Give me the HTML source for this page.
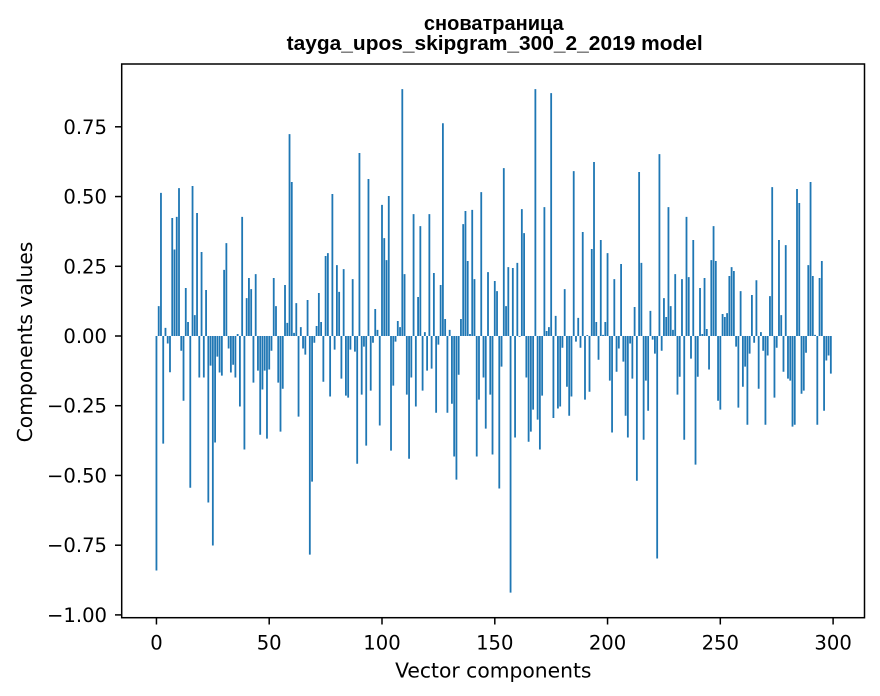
<!DOCTYPE html>
<html><head><meta charset="utf-8"><style>
html,body{margin:0;padding:0;background:#fff;}
svg{display:block;}
text{font-family:"DejaVu Sans","Liberation Sans",sans-serif;fill:#000;}
.t{font-family:"Liberation Sans","DejaVu Sans",sans-serif;font-weight:bold;font-size:20px;}
.tk{font-size:19.6px;}
.lb{font-size:20.3px;}
</style></head><body>
<svg width="880" height="696" viewBox="0 0 880 696" xmlns="http://www.w3.org/2000/svg">
<rect x="0" y="0" width="880" height="696" fill="#fff"/>
<g transform="translate(156.45,336) scale(2.2555,-278.9)">
<path fill="#1f77b4" d="M-0.4 0
h.8V-.841h-.8V0m1 0 h.8V.107h-.8V0m1 0 h.8V.513h-.8V0m1 0 h.8V-.386h-.8V0m1 0 h.8V.029h-.8V0m1 0
h.8V-.027h-.8V0m1 0 h.8V-.13h-.8V0m1 0 h.8V.423h-.8V0m1 0 h.8V.31h-.8V0m1 0 h.8V.427h-.8V0m1 0
h.8V.53h-.8V0m1 0 h.8V-.053h-.8V0m1 0 h.8V-.232h-.8V0m1 0 h.8V.172h-.8V0m1 0 h.8V.05h-.8V0m1 0
h.8V-.544h-.8V0m1 0 h.8V.538h-.8V0m1 0 h.8V.075h-.8V0m1 0 h.8V.441h-.8V0m1 0 h.8V-.149h-.8V0m1 0
h.8V.301h-.8V0m1 0 h.8V-.149h-.8V0m1 0 h.8V.165h-.8V0m1 0 h.8V-.597h-.8V0m1 0 h.8V-.106h-.8V0m1 0
h.8V-.751h-.8V0m1 0 h.8V-.382h-.8V0m1 0 h.8V-.074h-.8V0m1 0 h.8V-.131h-.8V0m1 0 h.8V-.142h-.8V0m1 0
h.8V.237h-.8V0m1 0 h.8V.333h-.8V0m1 0 h.8V-.045h-.8V0m1 0 h.8V-.131h-.8V0m1 0 h.8V-.103h-.8V0m1 0
h.8V-.149h-.8V0m1 0 h.8V.007h-.8V0m1 0 h.8V-.253h-.8V0m1 0 h.8V.427h-.8V0m1 0 h.8V-.407h-.8V0m1 0
h.8V.136h-.8V0m1 0 h.8V.208h-.8V0m1 0 h.8V.168h-.8V0m1 0 h.8V-.167h-.8V0m1 0 h.8V.222h-.8V0m1 0
h.8V-.124h-.8V0m1 0 h.8V-.354h-.8V0m1 0 h.8V-.192h-.8V0m1 0 h.8V-.124h-.8V0m1 0 h.8V-.368h-.8V0m1 0
h.8V-.12h-.8V0m1 0 h.8V-.053h-.8V0m1 0 h.8V.208h-.8V0m1 0 h.8V.107h-.8V0m1 0 h.8V-.167h-.8V0m1 0
h.8V-.343h-.8V0m1 0 h.8V-.189h-.8V0m1 0 h.8V.183h-.8V0m1 0 h.8V.047h-.8V0m1 0 h.8V.724h-.8V0m1 0
h.8V.552h-.8V0m1 0 h.8V.011h-.8V0m1 0 h.8V.118h-.8V0m1 0 h.8V-.289h-.8V0m1 0 h.8V.032h-.8V0m1 0
h.8V-.045h-.8V0m1 0 h.8V-.067h-.8V0m1 0 h.8V.129h-.8V0m1 0 h.8V-.784h-.8V0m1 0 h.8V-.522h-.8V0m1 0
h.8V-.024h-.8V0m1 0 h.8V.036h-.8V0m1 0 h.8V.154h-.8V0m1 0 h.8V.05h-.8V0m1 0 h.8V-.164h-.8V0m1 0
h.8V.287h-.8V0m1 0 h.8V.297h-.8V0m1 0 h.8V-.217h-.8V0m1 0 h.8V.509h-.8V0m1 0 h.8V-.049h-.8V0m1 0
h.8V.254h-.8V0m1 0 h.8V.158h-.8V0m1 0 h.8V-.153h-.8V0m1 0 h.8V.24h-.8V0m1 0 h.8V-.214h-.8V0m1 0
h.8V-.221h-.8V0m1 0 h.8V-.049h-.8V0m1 0 h.8V.204h-.8V0m1 0 h.8V-.056h-.8V0m1 0 h.8V-.458h-.8V0m1 0
h.8V.656h-.8V0m1 0 h.8V-.21h-.8V0m1 0 h.8V-.038h-.8V0m1 0 h.8V-.393h-.8V0m1 0 h.8V.563h-.8V0m1 0
h.8V-.196h-.8V0m1 0 h.8V-.024h-.8V0m1 0 h.8V.097h-.8V0m1 0 h.8V.022h-.8V0m1 0 h.8V-.321h-.8V0m1 0
h.8V.47h-.8V0m1 0 h.8V.351h-.8V0m1 0 h.8V.272h-.8V0m1 0 h.8V.502h-.8V0m1 0 h.8V-.411h-.8V0m1 0
h.8V-.178h-.8V0m1 0 h.8V-.02h-.8V0m1 0 h.8V.054h-.8V0m1 0 h.8V.032h-.8V0m1 0 h.8V.885h-.8V0m1 0
h.8V.222h-.8V0m1 0 h.8V-.21h-.8V0m1 0 h.8V-.44h-.8V0m1 0 h.8V-.149h-.8V0m1 0 h.8V.437h-.8V0m1 0
h.8V-.253h-.8V0m1 0 h.8V.14h-.8V0m1 0 h.8V.394h-.8V0m1 0 h.8V-.196h-.8V0m1 0 h.8V.014h-.8V0m1 0
h.8V-.124h-.8V0m1 0 h.8V.437h-.8V0m1 0 h.8V-.117h-.8V0m1 0 h.8V.226h-.8V0m1 0 h.8V-.275h-.8V0m1 0
h.8V-.031h-.8V0m1 0 h.8V.183h-.8V0m1 0 h.8V.763h-.8V0m1 0 h.8V.061h-.8V0m1 0 h.8V-.275h-.8V0m1 0
h.8V.022h-.8V0m1 0 h.8V-.243h-.8V0m1 0 h.8V-.432h-.8V0m1 0 h.8V-.515h-.8V0m1 0 h.8V-.139h-.8V0m1 0
h.8V.061h-.8V0m1 0 h.8V.401h-.8V0m1 0 h.8V.448h-.8V0m1 0 h.8V.269h-.8V0m1 0 h.8V.007h-.8V0m1 0
h.8V.452h-.8V0m1 0 h.8V.204h-.8V0m1 0 h.8V-.432h-.8V0m1 0 h.8V-.228h-.8V0m1 0 h.8V.516h-.8V0m1 0
h.8V-.149h-.8V0m1 0 h.8V-.332h-.8V0m1 0 h.8V.229h-.8V0m1 0 h.8V-.21h-.8V0m1 0 h.8V-.425h-.8V0m1 0
h.8V.197h-.8V0m1 0 h.8V.161h-.8V0m1 0 h.8V-.547h-.8V0m1 0 h.8V-.11h-.8V0m1 0 h.8V.602h-.8V0m1 0
h.8V.107h-.8V0m1 0 h.8V.247h-.8V0m1 0 h.8V-.92h-.8V0m1 0 h.8V.244h-.8V0m1 0 h.8V-.364h-.8V0m1 0
h.8V.262h-.8V0m1 0 h.8V-.003h-.8V0m1 0 h.8V.455h-.8V0m1 0 h.8V.369h-.8V0m1 0 h.8V-.149h-.8V0m1 0
h.8V-.379h-.8V0m1 0 h.8V-.343h-.8V0m1 0 h.8V-.264h-.8V0m1 0 h.8V.885h-.8V0m1 0 h.8V-.3h-.8V0m1 0
h.8V-.407h-.8V0m1 0 h.8V-.214h-.8V0m1 0 h.8V.462h-.8V0m1 0 h.8V.018h-.8V0m1 0 h.8V.032h-.8V0m1 0
h.8V.871h-.8V0m1 0 h.8V-.294h-.8V0m1 0 h.8V.072h-.8V0m1 0 h.8V-.26h-.8V0m1 0 h.8V-.253h-.8V0m1 0
h.8V-.042h-.8V0m1 0 h.8V.168h-.8V0m1 0 h.8V-.182h-.8V0m1 0 h.8V-.286h-.8V0m1 0 h.8V-.217h-.8V0m1 0
h.8V.591h-.8V0m1 0 h.8V-.02h-.8V0m1 0 h.8V.065h-.8V0m1 0 h.8V-.042h-.8V0m1 0 h.8V.373h-.8V0m1 0
h.8V-.228h-.8V0m1 0 h.8V.003h-.8V0m1 0 h.8V-.2h-.8V0m1 0 h.8V.312h-.8V0m1 0 h.8V.624h-.8V0m1 0
h.8V.05h-.8V0m1 0 h.8V-.085h-.8V0m1 0 h.8V.344h-.8V0m1 0 h.8V.004h-.8V0m1 0 h.8V.05h-.8V0m1 0
h.8V.297h-.8V0m1 0 h.8V-.16h-.8V0m1 0 h.8V-.346h-.8V0m1 0 h.8V.204h-.8V0m1 0 h.8V-.128h-.8V0m1 0
h.8V-.045h-.8V0m1 0 h.8V.258h-.8V0m1 0 h.8V-.092h-.8V0m1 0 h.8V-.286h-.8V0m1 0 h.8V-.364h-.8V0m1 0
h.8V-.027h-.8V0m1 0 h.8V-.153h-.8V0m1 0 h.8V.104h-.8V0m1 0 h.8V-.519h-.8V0m1 0 h.8V.588h-.8V0m1 0
h.8V.262h-.8V0m1 0 h.8V-.372h-.8V0m1 0 h.8V-.16h-.8V0m1 0 h.8V-.268h-.8V0m1 0 h.8V.09h-.8V0m1 0
h.8V-.013h-.8V0m1 0 h.8V-.063h-.8V0m1 0 h.8V-.798h-.8V0m1 0 h.8V.652h-.8V0m1 0 h.8V-.053h-.8V0m1 0
h.8V.136h-.8V0m1 0 h.8V.068h-.8V0m1 0 h.8V.462h-.8V0m1 0 h.8V.107h-.8V0m1 0 h.8V.022h-.8V0m1 0
h.8V.222h-.8V0m1 0 h.8V-.21h-.8V0m1 0 h.8V-.146h-.8V0m1 0 h.8V.204h-.8V0m1 0 h.8V-.372h-.8V0m1 0
h.8V.427h-.8V0m1 0 h.8V.211h-.8V0m1 0 h.8V-.081h-.8V0m1 0 h.8V.344h-.8V0m1 0 h.8V-.461h-.8V0m1 0
h.8V-.146h-.8V0m1 0 h.8V.172h-.8V0m1 0 h.8V.007h-.8V0m1 0 h.8V.208h-.8V0m1 0 h.8V.025h-.8V0m1 0
h.8V-.12h-.8V0m1 0 h.8V.272h-.8V0m1 0 h.8V.394h-.8V0m1 0 h.8V.269h-.8V0m1 0 h.8V-.232h-.8V0m1 0
h.8V-.264h-.8V0m1 0 h.8V.079h-.8V0m1 0 h.8V.068h-.8V0m1 0 h.8V.082h-.8V0m1 0 h.8V.215h-.8V0m1 0
h.8V.247h-.8V0m1 0 h.8V.233h-.8V0m1 0 h.8V-.038h-.8V0m1 0 h.8V-.257h-.8V0m1 0 h.8V.161h-.8V0m1 0
h.8V-.182h-.8V0m1 0 h.8V-.11h-.8V0m1 0 h.8V-.318h-.8V0m1 0 h.8V-.063h-.8V0m1 0 h.8V.147h-.8V0m1 0
h.8V-.024h-.8V0m1 0 h.8V.2h-.8V0m1 0 h.8V-.189h-.8V0m1 0 h.8V.014h-.8V0m1 0 h.8V-.053h-.8V0m1 0
h.8V-.318h-.8V0m1 0 h.8V-.07h-.8V0m1 0 h.8V.143h-.8V0m1 0 h.8V.534h-.8V0m1 0 h.8V-.221h-.8V0m1 0
h.8V-.042h-.8V0m1 0 h.8V.344h-.8V0m1 0 h.8V.075h-.8V0m1 0 h.8V-.128h-.8V0m1 0 h.8V.326h-.8V0m1 0
h.8V-.153h-.8V0m1 0 h.8V-.16h-.8V0m1 0 h.8V-.325h-.8V0m1 0 h.8V-.318h-.8V0m1 0 h.8V.527h-.8V0m1 0
h.8V.477h-.8V0m1 0 h.8V-.207h-.8V0m1 0 h.8V-.196h-.8V0m1 0 h.8V-.06h-.8V0m1 0 h.8V.254h-.8V0m1 0
h.8V.552h-.8V0m1 0 h.8V.215h-.8V0m1 0 h.8V.004h-.8V0m1 0 h.8V-.318h-.8V0m1 0 h.8V.208h-.8V0m1 0
h.8V.269h-.8V0m1 0 h.8V-.268h-.8V0m1 0 h.8V-.088h-.8V0m1 0 h.8V-.07h-.8V0m1 0 h.8V-.135h-.8V0"/>
</g>
<!-- spines -->
<rect x="121.7" y="64" width="742.8" height="553.7" fill="none" stroke="#000" stroke-width="1.5"/>
<!-- y ticks -->
<g stroke="#000" stroke-width="1.5">
<line x1="115" y1="126.8" x2="121.7" y2="126.8"/>
<line x1="115" y1="196.55" x2="121.7" y2="196.55"/>
<line x1="115" y1="266.3" x2="121.7" y2="266.3"/>
<line x1="115" y1="336" x2="121.7" y2="336"/>
<line x1="115" y1="405.7" x2="121.7" y2="405.7"/>
<line x1="115" y1="475.45" x2="121.7" y2="475.45"/>
<line x1="115" y1="545.2" x2="121.7" y2="545.2"/>
<line x1="115" y1="614.9" x2="121.7" y2="614.9"/>
<line x1="156.45" y1="617.7" x2="156.45" y2="624.5"/>
<line x1="269.2" y1="617.7" x2="269.2" y2="624.5"/>
<line x1="382" y1="617.7" x2="382" y2="624.5"/>
<line x1="494.8" y1="617.7" x2="494.8" y2="624.5"/>
<line x1="607.55" y1="617.7" x2="607.55" y2="624.5"/>
<line x1="720.3" y1="617.7" x2="720.3" y2="624.5"/>
<line x1="833.1" y1="617.7" x2="833.1" y2="624.5"/>
</g>
<g class="tk" text-anchor="end">
<text x="107" y="133.8">0.75</text>
<text x="107" y="203.55">0.50</text>
<text x="107" y="273.3">0.25</text>
<text x="107" y="343">0.00</text>
<text x="107" y="412.7">−0.25</text>
<text x="107" y="482.45">−0.50</text>
<text x="107" y="552.2">−0.75</text>
<text x="107" y="621.9">−1.00</text>
</g>
<g class="tk" text-anchor="middle">
<text x="156.45" y="649.3">0</text>
<text x="269.2" y="649.3">50</text>
<text x="382" y="649.3">100</text>
<text x="494.8" y="649.3">150</text>
<text x="607.55" y="649.3">200</text>
<text x="720.3" y="649.3">250</text>
<text x="833.1" y="649.3">300</text>
</g>
<text class="lb" x="493.3" y="677.3" text-anchor="middle">Vector components</text>
<text class="lb" transform="translate(32,342) rotate(-90)" text-anchor="middle">Components values</text>
<text class="t" x="493.8" y="30" text-anchor="middle">сноватраница</text>
<text class="t" x="494.7" y="50" text-anchor="middle" textLength="416" lengthAdjust="spacingAndGlyphs">tayga_upos_skipgram_300_2_2019 model</text>
</svg>
</body></html>
